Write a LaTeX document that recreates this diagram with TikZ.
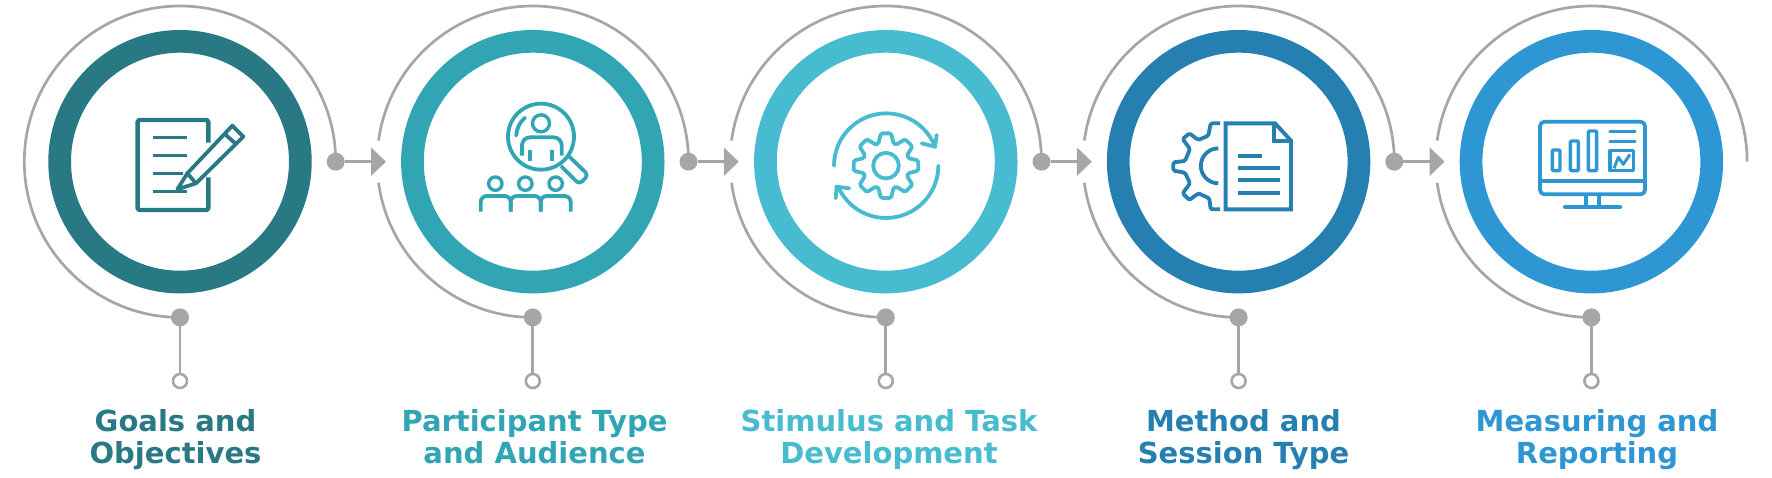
\documentclass[tikz,border=0pt]{standalone}
\usepackage{fontspec}
\setmainfont{DejaVu Sans}
\usetikzlibrary{arrows.meta}
\definecolor{cA}{HTML}{297985}
\definecolor{cB}{HTML}{32A5B5}
\definecolor{cC}{HTML}{47BCD0}
\definecolor{cD}{HTML}{2580B1}
\definecolor{cE}{HTML}{2E97D3}
\definecolor{gr}{HTML}{A6A6A6}
\tikzset{
  ringnode/.style={circle,draw=#1,line width=22.7pt,minimum size=240.7pt,inner sep=0pt,outer sep=0pt},
  soliddot/.style={circle,fill=gr,minimum size=18pt,inner sep=0pt,outer sep=0pt},
  hollowdot/.style={circle,draw=gr,fill=white,line width=2.6pt,minimum size=14pt,inner sep=0pt,outer sep=0pt},
  thinline/.style={draw=gr,line width=2.7pt},
  steplabel/.style={text=#1,font=\fontsize{29}{32}\selectfont\bfseries,align=center,inner sep=0pt,execute at begin node=\strut,execute at end node=\strut},
  iconpen/.style={draw=#1,line width=3.8pt,line join=round},
  zoomed/.style={x=0.33333pt,y=-0.33333pt},
  flow/.style={thinline,-{Triangle[length=15pt,width=28pt]}},
}
\begin{document}
\begin{tikzpicture}[x=1pt,y=-1pt]
\useasboundingbox (0,0) rectangle (1772,478);
% rings, arcs, connectors
\foreach \i/\cx/\col in {1/180/cA,2/532.8/cB,3/885.8/cC,4/1238.6/cD,5/1591.4/cE}{
  \node[ringnode=\col] (ring\i) at (\cx,161.7) {};
  \node[soliddot] (bd\i) at (\cx,317.4) {};
  \node[hollowdot] (hd\i) at (\cx,381) {};
  \draw[thinline] (bd\i) -- (hd\i);
}
\draw[thinline] (bd1.center) arc[start angle=270,end angle=0,radius=155.7pt];
\foreach \i/\cx in {2/532.8,3/885.8,4/1238.6,5/1591.4}{
  \coordinate (re\i) at (\cx+155.7,161.7);
  \draw[thinline] (bd\i.center) arc[start angle=270,end angle=187.8,radius=155.7pt];
  \draw[thinline] (re\i) arc[start angle=0,end angle=172.2,radius=155.7pt];
}
\foreach \i/\cx in {1/180,2/532.8,3/885.8,4/1238.6}{
  \node[soliddot] (rd\i) at (\cx+155.7,161.7) {};
  \coordinate (tip\i) at (\cx+206,161.7);
  \draw[flow] (rd\i) -- (tip\i);
}
% labels
\node[steplabel=cA] (l1) at (175.5,441) {Goals and\\Objectives};
\node[steplabel=cB] (l2) at (534.5,441) {Participant Type\\and Audience};
\node[steplabel=cC] (l3) at (889,441) {Stimulus and Task\\Development};
\node[steplabel=cD] (l4) at (1243.5,441) {Method and\\Session Type};
\node[steplabel=cE] (l5) at (1597,441) {Measuring and\\Reporting};
% icon 1
\begin{scope}[shift={(100,90)},zoomed,iconpen=cA]
  \draw[line width=4.4pt,rounded corners=1.5pt] (325,158)--(325,90)--(113,90)--(113,360)--(325,360)--(325,262);
  \draw[line width=3.4pt] (160,142)--(262,142) (160,196)--(262,196) (160,250)--(250,250) (160,305)--(262,305);
  \draw (232,298)--(262,250)--(397,107)--(430,140)--(288,280)--cycle;
  \draw (262,250)--(288,280) (372,130)--(408,162);
\end{scope}
% icon 2
\begin{scope}[shift={(450,85)},zoomed,iconpen=cB]
  \draw (273,155) circle[radius=33pt];
  \draw[line width=3.4pt] (273,115) circle[radius=8.5pt];
  \draw[rounded corners=8pt] (216,212)--(216,157)--(335,157)--(335,212);
  \draw (241,195)--(241,228) (306,195)--(306,228);
  \draw[line cap=round] (225,98) arc[start angle=130,end angle=178,radius=24.5pt];
  \draw[rounded corners=4pt] (358,215)--(415,270)--(388,298)--(333,243);
  \foreach \hx in {136,226,317}{\draw[line width=3.4pt] (\hx,296) circle[radius=6.7pt];}
  \draw[rounded corners=6pt] (92,380)--(92,333)--(182,333)--(182,380);
  \draw[rounded corners=6pt] (182,380)--(182,333)--(272,333)--(272,380);
  \draw[rounded corners=6pt] (272,380)--(272,333)--(362,333)--(362,380);
\end{scope}
% icon 3
\begin{scope}[shift={(810,100)},zoomed,iconpen=cC]
  \begin{scope}[shift={(228,197)}]
    \draw[rounded corners=1.5pt] (-19:70) \foreach \a in {0,45,...,315}{ -- (\a-19:70) -- (\a-9:98) -- (\a+9:98) -- (\a+19:70)} -- cycle;
    \draw (0,0) circle[radius=12.8pt];
  \end{scope}
  \draw[line cap=round] (72,197) arc[start angle=180,end angle=21,radius=52.3pt];
  \draw[line cap=round] (385,197) arc[start angle=0,end angle=-155,radius=52.3pt];
  \draw[line cap=round] (335,130)--(375,140)--(380,105);
  \draw[line cap=round] (118,265)--(80,260)--(77,295);
\end{scope}
% icon 4
\begin{scope}[shift={(1160,105)},zoomed,iconpen=cD]
  \draw[line width=3.9pt,line join=miter] (345,55)--(197,55)--(197,313)--(393,313)--(393,107)--cycle;
  \draw[line width=3.9pt,line join=miter] (342,55)--(342,107)--(393,107);
  \draw[line width=3.9pt] (235,153)--(305,153) (235,188)--(360,188) (235,226)--(360,226) (235,263)--(360,263);
  \draw[rounded corners=1.5pt] (180,55)--(152,55)--(145,92)--(115,105)--(88,85)--(68,102)--(90,132)--(75,168)--(40,172)--(40,197)--(75,203)--(90,235)--(68,265)--(88,285)--(115,265)--(148,280)--(152,313)--(180,313);
  \draw (175,130) arc[start angle=90,end angle=270,radius=17.5pt];
\end{scope}
% icon 5
\begin{scope}[shift={(1520,105)},zoomed,iconpen=cE]
  \draw[rounded corners=4.5pt] (60,50) rectangle (375,268);
  \draw (60,229)--(375,229);
  \draw (197,268)--(197,302) (238,268)--(238,302);
  \draw[line width=4.2pt,line cap=round] (135,306)--(300,306);
  \draw[line width=3.4pt,rounded corners=1pt] (97,135) rectangle (120,197);
  \draw[line width=3.4pt,rounded corners=1pt] (151,108) rectangle (175,197);
  \draw[line width=3.4pt,rounded corners=1pt] (205,78) rectangle (230,197);
  \draw[line width=3.4pt,line cap=round] (270,79)--(345,79) (270,110)--(345,110);
  \draw[line width=3.6pt] (270,137) rectangle (340,197);
  \draw[line width=3pt] (282,190)--(295,157)--(310,178)--(330,148);
\end{scope}
\end{tikzpicture}
\end{document}
